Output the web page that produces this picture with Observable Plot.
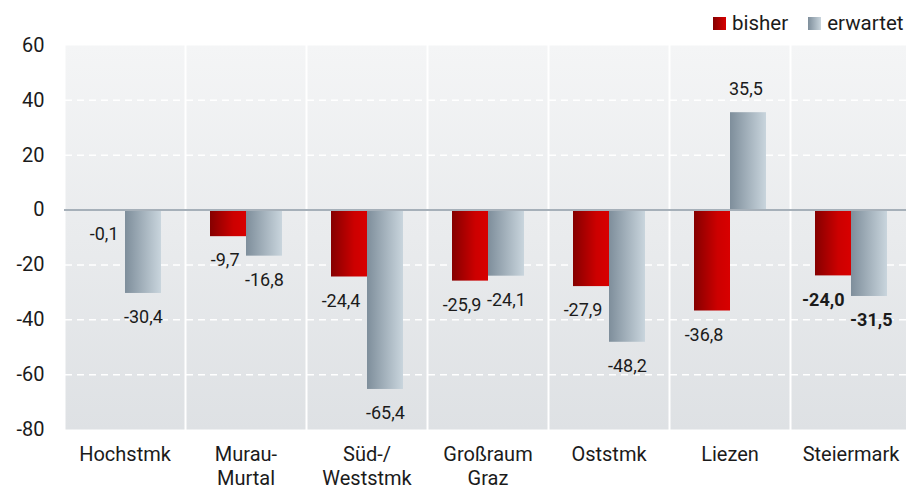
<!DOCTYPE html>
<html>
<head>
<meta charset="utf-8">
<script src="https://cdn.jsdelivr.net/npm/d3@7"></script>
<script src="https://cdn.jsdelivr.net/npm/@observablehq/plot@0.6"></script>
<style>
  body { margin: 0; background: white; font-family: Roboto, sans-serif; }
  #wrap { position: relative; width: 906px; height: 488px; overflow: hidden; }
  #legend { position: absolute; left: 713px; top: 11px; height: 24px; display: flex; align-items: center; font-size: 20.5px; color: #1b1b1b; }
  #legend .sw { width: 13px; height: 13px; margin-right: 6px; }
  #legend .item { display: flex; align-items: center; margin-right: 20px; }
  #legend .item:last-child { margin-right: 0; }
</style>
</head>
<body>
<div id="wrap">
  <div id="legend"></div>
</div>
<script>
const categories = ["Hochstmk", "Murau-\nMurtal", "Süd-/\nWeststmk", "Großraum\nGraz", "Oststmk", "Liezen", "Steiermark"];
const series = ["bisher", "erwartet"];
const bisher = [-0.1, -9.7, -24.4, -25.9, -27.9, -36.8, -24.0];
const erwartet = [-30.4, -16.8, -65.4, -24.1, -48.2, 35.5, -31.5];
const yTicks = [-80, -60, -40, -20, 0, 20, 40, 60];
const gridTicks = [-60, -40, -20, 20, 40];
const boldCategory = "Steiermark";

const rows = categories.flatMap((c, i) => [
  {region: c, series: "bisher", value: bisher[i]},
  {region: c, series: "erwartet", value: erwartet[i]}
]);
const fmt = v => v.toFixed(1).replace(".", ",");
const fills = {bisher: "url(#gRed)", erwartet: "url(#gGrey)"};
const textColor = "#1b1b1b";

const labelMarks = [];
for (const s of series) {
  for (const neg of [true, false]) {
    for (const b of [true, false]) {
      labelMarks.push(Plot.text(rows, {
        filter: d => d.series === s && (d.value < 0) === neg && (d.region === boldCategory) === b,
        fx: "region",
        y: "value",
        text: d => fmt(d.value),
        textAnchor: s === "bisher" ? "end" : "start",
        dx: s === "bisher" ? -6.5 : -1,
        dy: neg ? 24 : -23,
        lineAnchor: "middle",
        fontSize: 18,
        fontWeight: b ? "bold" : "normal",
        fill: textColor
      }));
    }
  }
}

const chart = Plot.plot({
  width: 906,
  height: 488,
  marginLeft: 64,
  marginRight: -5,
  marginTop: 45,
  marginBottom: 59,
  style: {fontFamily: "Roboto, sans-serif", background: "transparent", overflow: "visible"},
  fx: {domain: categories, paddingInner: 2 / 121, paddingOuter: 0, axis: null, label: null},
  x: {domain: series, paddingInner: 0, paddingOuter: 0.634, axis: null, label: null},
  y: {domain: [-80, 60], axis: null, label: null},
  marks: [
    Plot.frame({fill: "url(#gBg)"}),
    Plot.gridY(gridTicks, {stroke: "white", strokeOpacity: 1, strokeWidth: 1.5, strokeDasharray: "7,5"}),
    ...series.map(s => Plot.barY(rows, {filter: d => d.series === s, fx: "region", x: "series", y: "value", fill: fills[s]})),
    Plot.ruleY([0], {stroke: "#a6b0b9", strokeWidth: 2, insetLeft: -1, insetRight: -1}),
    ...labelMarks,
    Plot.axisY(yTicks, {tickSize: 0, tickPadding: 21, fontSize: 20, tickFormat: d => String(d), label: null, fill: textColor}),
    Plot.axisFx({anchor: "bottom", tickSize: 0, tickPadding: 14, fontSize: 20, lineHeight: 1.2, label: null, fill: textColor})
  ]
});

d3.select(chart).insert("defs", ":first-child").html(`
  <linearGradient id="gRed" x1="0" x2="1" y1="0" y2="0">
    <stop offset="0" stop-color="#850000"/>
    <stop offset="0.65" stop-color="#cc0000"/>
    <stop offset="1" stop-color="#d80000"/>
  </linearGradient>
  <linearGradient id="gGrey" x1="0" x2="1" y1="0" y2="0">
    <stop offset="0" stop-color="#7e8e9b"/>
    <stop offset="1" stop-color="#c9d5dd"/>
  </linearGradient>
  <linearGradient id="gBg" x1="0" x2="0" y1="0" y2="1">
    <stop offset="0" stop-color="#f4f5f6"/>
    <stop offset="1" stop-color="#dee1e4"/>
  </linearGradient>
`);

const wrap = document.getElementById("wrap");
wrap.insertBefore(chart, wrap.firstChild);

const legend = d3.select("#legend");
const swatchCss = {
  bisher: "linear-gradient(to right, #850000, #d80000)",
  erwartet: "linear-gradient(to right, #7e8e9b, #c9d5dd)"
};
for (const s of series) {
  const item = legend.append("div").attr("class", "item");
  item.append("div").attr("class", "sw").style("background", swatchCss[s]);
  item.append("span").text(s);
}
</script>
</body>
</html>
